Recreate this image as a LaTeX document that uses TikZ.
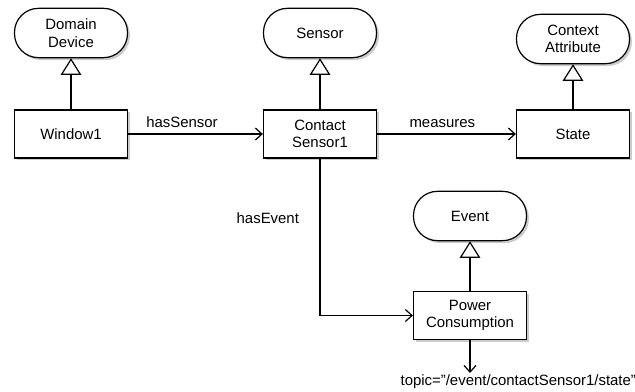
\documentclass[tikz,border=0pt]{standalone}
\usepackage{fontspec}
\setmainfont{Liberation Sans}
\usetikzlibrary{arrows.meta,shadows}

\begin{document}
\begin{tikzpicture}[x=0.75pt,y=-0.75pt,line width=0.9pt,font=\fontsize{11.2}{13}\selectfont,
  inst/.style={draw,fill=white,minimum width=84.75pt,minimum height=36pt,align=center,inner sep=2pt,drop shadow={shadow xshift=1.8pt,shadow yshift=-1.8pt,opacity=0.4}},
  cls/.style={draw,fill=white,rounded corners=18pt,minimum width=84.75pt,minimum height=37pt,align=center,inner sep=2pt,drop shadow={shadow xshift=1.8pt,shadow yshift=-1.8pt,opacity=0.4}},
  isa/.style={-{Triangle[open,length=12.5pt,width=15.5pt,fill=white]}},
  rel/.style={-{Straight Barb[length=5pt,width=9pt]}},
  lab/.style={above,inner sep=4pt}]
\useasboundingbox (0,0) rectangle (635,392);
% classes
\node[cls] (dd) at (71,33) {Domain\\Device};
\node[cls] (se) at (320,33) {Sensor};
\node[cls] (ca) at (573,39) {Context\\Attribute};
\node[cls] (ev) at (470,216) {Event};
% instances
\node[inst] (w1) at (71,134) {Window1};
\node[inst] (cs) at (320,134) {Contact\\Sensor1};
\node[inst] (st) at (573,134) {State};
\node[inst] (pc) at (470,315.5) {Power\\Consumption};
\coordinate (tp) at (470,373);
% type links
\draw[isa] (w1) -- (dd);
\draw[isa] (cs) -- (se);
\draw[isa] (st) -- (ca);
\draw[isa] (pc) -- (ev);
% properties
\draw[rel] (w1) -- node[lab,pos=0.4]{hasSensor} (cs);
\draw[rel] (cs) -- node[lab,pos=0.47]{measures} (st);
\draw[rel] (cs.south) |- node[left=12pt,pos=0.19]{hasEvent} (pc.west);
\draw[rel] (pc) -- (tp) node[anchor=north west,xshift=-53pt,inner sep=0.5pt]{topic="/event/contactSensor1/state"};
\end{tikzpicture}
\end{document}
